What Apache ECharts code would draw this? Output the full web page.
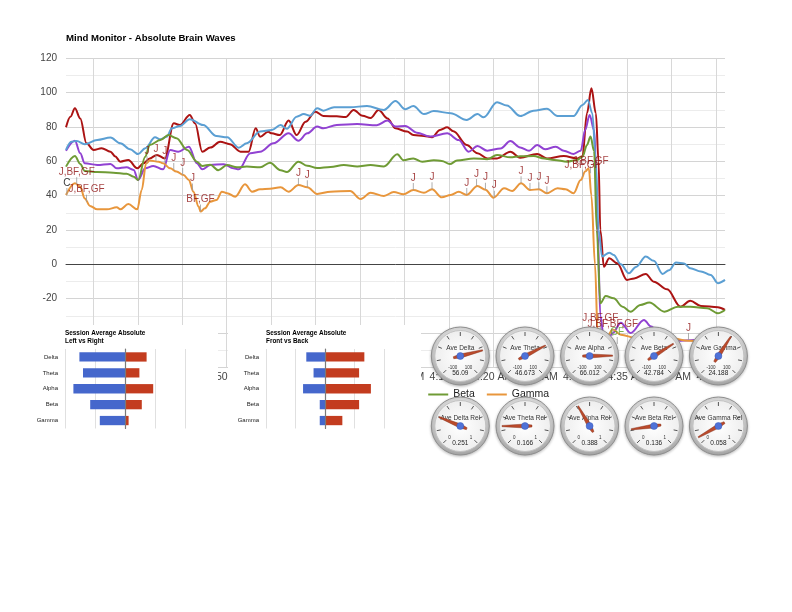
<!DOCTYPE html>
<html><head><meta charset="utf-8">
<script src="https://cdn.jsdelivr.net/npm/echarts@6/dist/echarts.min.js"></script>
<style>html,body{margin:0;padding:0;background:#fff}#c{width:792px;height:612px}</style>
</head><body><div id="c"></div>
<script>
// ---------------- DATA ----------------
const seriesNames = ['Delta', 'Theta', 'Alpha', 'Beta', 'Gamma'];
// time in minutes after midnight, value
const delta = [[212.0,79.8],[212.5,86],[213.0,90.9],[213.6,85],[214.3,70.5],[215.1,66.6],[216.0,67.6],[217.0,65.6],[217.5,63],[218.1,59.8],[219.0,60.8],[220.0,55.9],[220.7,58.8],[221.4,61.7],[222.2,63.7],[223.1,61.7],[224.1,82.1],[224.8,81.1],[225.9,87],[226.5,82],[227.3,65.6],[228.2,68],[229.3,71.4],[230.4,70],[231.6,65.6],[232.5,65.6],[233.3,79.2],[233.8,74.3],[234.7,77.2],[235.1,76.3],[236.0,75.3],[237.0,83.7],[237.9,75.3],[238.9,83],[240.0,88.9],[240.9,86.4],[242.4,86.2],[243.4,85.8],[244.3,89.9],[245.3,86.5],[246.2,85.2],[247.1,89.9],[248.1,85],[249.0,79.2],[250.3,77.3],[251.0,75.3],[252.2,74.8],[253.1,74],[254.0,78.3],[254.8,79.8],[255.5,77.5],[257.0,69.5],[258.2,64.7],[259.3,61.7],[260.4,61.7],[261.9,65.6],[263.0,62.1],[264.9,64.3],[266.0,61.7],[267.9,63.1],[269.4,61.7],[270.0,63],[270.5,88],[271.0,102.5],[271.5,88],[271.8,60],[272.0,20],[272.4,-1.4],[273.0,3.5],[273.9,0.6],[275.0,-9.1],[275.8,-8.2],[277.1,-5.6],[278.0,-10.1],[279.5,-14.6],[281.0,-24.7],[282.1,-21.2],[283.3,-24.3],[285.2,-25],[286,-26.6]];
const theta = [[212.0,66.2],[213.0,72],[213.6,64.7],[214.1,58.8],[215.5,57.9],[217.0,58.5],[217.7,55.9],[218.8,56.5],[219.6,55],[220.1,49.1],[220.9,55.9],[221.8,57.3],[222.9,55.3],[223.7,66.6],[224.6,65.6],[225.8,68.5],[226.7,58.8],[227.3,55.3],[228.2,57.9],[229.7,58.3],[230.8,55.9],[231.4,55.3],[232.7,64.7],[233.8,65.6],[235.3,70.5],[237.0,76.3],[238.1,72],[239.1,76.3],[240.2,80.2],[240.9,79.2],[242.4,81.2],[244.7,81.7],[246.9,81],[248.1,83.7],[249.0,80.2],[250.1,80.6],[251.4,76.7],[252.9,74.4],[254.8,76.3],[256.1,72.4],[257.2,65.6],[258.2,68.9],[259.3,66.2],[260.8,67.5],[261.9,71.8],[263.0,68.1],[264.0,66.2],[264.9,69.5],[265.8,67],[267.0,68.5],[267.9,66.2],[269.0,64.3],[269.8,66.2],[270.3,78.3],[270.8,87],[271.3,78],[271.7,20],[272.0,-30],[272.5,-48],[273.4,-40],[274.3,-34],[275.4,-40],[276.9,-32.4],[277.7,-36.3],[278.8,-42],[281.0,-44.5],[283.3,-44],[286,-43]];
const alpha = [[212.0,66.6],[212.6,71.4],[213.2,71.8],[214.1,70.0],[215.5,72.4],[217.0,73.8],[218.1,70.5],[219.2,67],[220.1,64.2],[220.9,67.6],[222.0,74],[222.6,72.8],[223.3,74.3],[223.9,79.2],[224.8,80.6],[225.9,84.5],[227.4,81.1],[228.9,74.7],[230.1,74],[231.4,67.9],[232.3,70.5],[233.8,77.3],[235.1,78.2],[236.1,81.1],[236.8,79],[237.9,86],[238.7,87.5],[239.4,86.5],[240.2,90.9],[240.9,89.5],[242.1,91.5],[243.9,91.5],[245.8,92.2],[247.7,89.9],[249.0,95.1],[250.1,90.3],[251.0,92.2],[252.2,87.5],[253.3,89.3],[255.2,88],[257.0,84.1],[258.2,87.5],[258.9,85.6],[260.4,94.4],[261.5,92.5],[263.0,86.4],[264.5,89.5],[266.0,90.6],[267.2,86.4],[269.0,86.4],[270.0,92.8],[270.6,95.7],[271.1,88],[271.5,60],[271.8,20],[272.2,4.5],[273.0,6.8],[273.5,5.4],[274.3,0],[275.2,-5.2],[276.0,-1.5],[277.1,4.5],[278.0,2],[279.0,-5.6],[279.7,-3.5],[280.5,1],[281.4,0.5],[282.1,-2.3],[283.3,-4.2],[284.4,-6.2],[285.2,-11],[286,-9.1]];
const beta = [[212.0,56.9],[213.0,63.1],[213.6,58.5],[214.1,54.4],[215.5,53.8],[217.3,53.4],[218.8,52.8],[219.6,51],[220.1,49.1],[220.9,62.7],[221.4,69.5],[222.6,72.4],[223.5,75.3],[224.4,73.5],[225.6,66.6],[226.7,59.8],[227.3,57.3],[228.2,58],[229.1,54.8],[230.1,57.9],[231.2,56.5],[232.3,56.9],[233.8,56.5],[234.9,59.2],[236.1,54.8],[236.8,53.8],[238.1,59.8],[239.1,57.4],[240.2,56.1],[241.7,56.7],[243.2,57.9],[244.7,57],[246.2,57.9],[247.7,57],[249.2,64.1],[249.9,60.6],[251.0,61.7],[252.0,59.8],[253.3,60.6],[254.2,60.2],[255.1,58.4],[255.9,60.4],[257.8,61.7],[259.3,61.2],[260.4,63.7],[261.9,62.3],[263.0,62.9],[264.5,63.1],[265.7,61.7],[266.8,60.8],[268.3,59.8],[269.4,60.8],[270.0,62.7],[270.5,69.5],[270.9,74.4],[271.3,66],[271.6,20],[272.0,-22.7],[272.6,-18.4],[273.5,-19.8],[274.5,-24.7],[275.4,-27.6],[276.5,-23.7],[277.5,-22.3],[279.2,-27.6],[280.7,-24.7],[282.1,-24.7],[284.0,-25.6],[285.2,-28.5],[286,-26.6]];
const gamma = [[212.0,40.4],[213.0,47.2],[213.6,45.3],[214.1,38.4],[214.7,34],[215.5,32],[216.6,32],[217.7,33.2],[218.1,32],[219.0,35.1],[220.0,32],[220.5,43.3],[221.0,58.8],[221.4,60.4],[222.4,59.8],[222.9,58.8],[223.7,55.9],[224.4,54],[225.2,52],[225.8,49.1],[226.3,42.3],[226.9,33.6],[227.1,30.7],[227.6,32.6],[228.2,36.5],[228.9,37.5],[229.5,42.3],[230.1,41.4],[231.0,39.4],[232.1,46.6],[232.9,42.3],[233.8,43.7],[234.9,44],[236.1,44.9],[237.0,42.3],[238.1,46.2],[239.1,44.9],[240.2,41],[241.7,42.3],[243.9,42.7],[245.1,38],[246.2,41.7],[247.7,39.8],[248.8,42.1],[249.9,40.8],[251.0,43.3],[252.2,41.7],[253.1,43.7],[254.2,39],[255.2,40.4],[256.1,42.3],[257.0,40.4],[258.2,45.6],[259.1,43.5],[260.0,38.8],[261.2,44.3],[262.1,42.7],[263.1,47.2],[264.1,43.3],[265.1,43.7],[266.0,41.4],[267.2,44.3],[268.1,43.7],[269.0,41.4],[269.8,49.1],[270.3,54],[270.7,56],[271.0,40],[271.4,0],[271.7,-40],[272.4,-46],[273.4,-38],[274.3,-41],[276.0,-43],[277.7,-45],[279.9,-43],[281.9,-44.5],[283.8,-45],[286,-46]];

// annotations: time, value, text
const annotRed = [[213.2,46.6,'J,BF,GF'],[214.3,36.5,'J,BF,GF'],[221.1,58.8,'J'],[222.1,60,'J'],[223.1,58.8,'J'],[224.1,55,'J'],[225.1,52,'J'],[226.2,43,'J'],[227.1,30.7,'BF,GF'],[238.1,46.2,'J'],[239.1,44.9,'J'],[251.0,43.3,'J'],[253.1,43.7,'J'],[257.0,40.4,'J'],[258.1,45.6,'J'],[259.1,43.5,'J'],[260.1,38.8,'J'],[263.1,47.2,'J'],[264.1,43.3,'J'],[265.1,43.7,'J'],[266.0,41.4,'J'],[270.0,51,'J,BF,GF'],[270.9,53,'J,BF,GF'],[272.0,-38.5,'J,BF,GF'],[273.4,-41.8,'J,BF,BF,GF'],[281.9,-44.1,'J']];
const annotBlack = [[212.1,40.4,'C']];
const annotGreen = [[273.9,-46.4,'GF']];

const yMin = -60, yMax = 120, yStep = 20;
const timeMin = 212, timeMax = 286, tickFirst = 215, tickLast = 285, tickStep = 5;

const barCats = ['Delta', 'Theta', 'Alpha', 'Beta', 'Gamma'];
const leftVals = [-76, -70, -86, -58, -42];
const rightVals = [36, 24, 47, 28, 6];
const frontVals = [-31.7, -19.4, -37.2, -8.9, -8.9];
const backVals = [66.7, 57.8, 77.8, 57.8, 29.4];

const absNames = ['Ave Delta', 'Ave Theta', 'Ave Alpha', 'Ave Beta', 'Ave Gamma'];
const absValues = [56.09, 46.673, 66.012, 42.784, 24.188];
const relNames = ['Ave Delta Rel', 'Ave Theta Rel', 'Ave Alpha Rel', 'Ave Beta Rel', 'Ave Gamma Rel'];
const relValues = [0.251, 0.166, 0.388, 0.136, 0.058];

// ---------------- LAYOUT / STYLE ----------------
const colors = ['#ab1313', '#9142d2', '#5b9fd3', '#6f9b35', '#e8963c'];
const FONT = '"Liberation Sans", Arial, sans-serif';
const gaugeX = [460.3, 525, 589.6, 654, 718.4];
const gaugeY = [356, 426];
const gaugeR = 29;
const NEEDLE = 'path://M4.4,0 L5.6,0 L7,76 L6,100 L4,100 L3,76 Z';

const fmtTime = v => { const h = Math.floor(v / 60); const m = Math.round(v - h * 60); return h + ':' + (m < 10 ? '0' : '') + m + ' AM'; };

function annotSeries(list, color) {
  return {
    type: 'scatter', xAxisIndex: 0, yAxisIndex: 0, z: 3, silent: true,
    symbol: 'rect', symbolSize: [1, 7], symbolOffset: [0, '-50%'],
    itemStyle: { color: '#9a9a9a' },
    label: { show: true, position: 'top', distance: 0, formatter: '{b}', color: color, fontSize: 10, fontFamily: FONT },
    data: list.map(a => ({ name: a[2], value: [a[0], a[1]] }))
  };
}

function makeGauge(name, value, cx, cy, min, max, edge) {
  return {
    type: 'gauge', name: name, z: 12, center: [cx, cy], radius: gaugeR,
    startAngle: 225, endAngle: -45, min: min, max: max, splitNumber: 8,
    axisLine: { show: false, lineStyle: { width: 0 } },
    progress: { show: false },
    splitLine: { show: true, distance: 5, length: 4, lineStyle: { color: '#555', width: 1 } },
    axisTick: { show: false },
    axisLabel: { show: true, distance: 3, fontSize: 4.5, color: '#333', fontFamily: FONT,
      formatter: v => (v === min ? edge[0] : (v === max ? edge[1] : '')) },
    pointer: { show: true, icon: NEEDLE, length: 30, width: 4, offsetCenter: [0, 7],
      itemStyle: { color: '#bb4a2b', borderColor: '#7f2a16', borderWidth: 0.4 } },
    anchor: { show: true, showAbove: true, size: 7, itemStyle: { color: '#4f72d8', borderColor: '#3b5bb8', borderWidth: 0.5 } },
    title: { show: true, offsetCenter: [0, '-26%'], fontSize: 6.5, color: '#333', fontFamily: FONT },
    detail: { show: true, offsetCenter: [0, '60%'], fontSize: 6.5, fontWeight: 'normal', color: '#222', fontFamily: FONT, formatter: '{value}', valueAnimation: false },
    data: [{ value: value, name: name }]
  };
}

const gaugeGraphics = [];
gaugeY.forEach(cy => gaugeX.forEach(cx => {
  gaugeGraphics.push({ type: 'circle', z: 10, silent: true, shape: { cx: cx, cy: cy, r: gaugeR },
    style: { fill: { type: 'linear', x: 0, y: 0, x2: 0, y2: 1, colorStops: [{ offset: 0, color: '#e2e2e2' }, { offset: 1, color: '#a9a9a9' }] },
      stroke: '#8e8e8e', lineWidth: 1, shadowBlur: 3, shadowColor: 'rgba(0,0,0,0.25)', shadowOffsetY: 1 } });
  gaugeGraphics.push({ type: 'circle', z: 11, silent: true, shape: { cx: cx, cy: cy, r: gaugeR - 3.5 },
    style: { fill: { type: 'radial', x: 0.5, y: 0.5, r: 0.5, colorStops: [{ offset: 0, color: '#ffffff' }, { offset: 1, color: '#eeeeee' }] },
      stroke: '#c2c2c2', lineWidth: 1 } });
}));

const lineData = [delta, theta, alpha, beta, gamma];

function catAxis(gi) {
  return { gridIndex: gi, type: 'category', data: barCats, inverse: true, z: 11, position: 'left',
    axisLine: { show: false, onZero: false }, axisTick: { show: false },
    axisLabel: { fontSize: 6, color: '#222', margin: 7 } };
}
function zeroAxis(gi) {
  return { gridIndex: gi, type: 'category', data: barCats, inverse: true, z: 13, position: 'left',
    axisLine: { show: true, onZero: true, lineStyle: { color: '#7a7a7a', width: 1.2 } },
    axisTick: { show: false }, axisLabel: { show: false }, splitLine: { show: false } };
}

const option = {
  animation: false,
  textStyle: { fontFamily: FONT },
  title: [
    { text: 'Mind Monitor - Absolute Brain Waves', left: 66, top: 33, padding: 0,
      textStyle: { fontSize: 9.6, fontWeight: 'bold', color: '#000' } },
    { text: 'Session Average Absolute\nLeft vs Right', left: 65, top: 329, padding: 0, z: 11,
      textStyle: { fontSize: 6.4, lineHeight: 8, fontWeight: 'bold', color: '#000' } },
    { text: 'Session Average Absolute\nFront vs Back', left: 266, top: 329, padding: 0, z: 11,
      textStyle: { fontSize: 6.4, lineHeight: 8, fontWeight: 'bold', color: '#000' } }
  ],
  legend: {
    data: seriesNames, left: 239, top: 389, padding: 0, itemGap: 12, itemWidth: 20, itemHeight: 2,
    icon: 'rect', selectedMode: false,
    textStyle: { fontSize: 10.5, color: '#222' }
  },
  grid: [
    { left: 66, top: 58.3, width: 659, height: 309 },
    { left: 93.3, top: 58.3, width: 622.7, height: 309 },
    { left: 65, top: 349, width: 120, height: 79.5 },
    { left: 266, top: 349, width: 118, height: 79.5 }
  ],
  xAxis: [
    { gridIndex: 0, type: 'value', min: timeMin, max: timeMax,
      axisLine: { show: true, onZero: true, lineStyle: { color: '#444', width: 1 } },
      axisTick: { show: false }, axisLabel: { show: false }, splitLine: { show: false } },
    { gridIndex: 1, type: 'value', min: tickFirst, max: tickLast, interval: tickStep,
      axisLine: { show: false }, axisTick: { show: false },
      axisLabel: { show: true, margin: 4.5, fontSize: 10.5, color: '#444', formatter: fmtTime },
      splitLine: { show: true, lineStyle: { color: '#d8d8d8', width: 1 } } },
    { gridIndex: 2, type: 'value', min: -100, max: 100, interval: 50, z: 11,
      axisLine: { show: false }, axisTick: { show: false }, axisLabel: { show: false },
      splitLine: { show: true, lineStyle: { color: '#e0e0e0' } } },
    { gridIndex: 3, type: 'value', min: -100, max: 100, interval: 50, z: 11,
      axisLine: { show: false }, axisTick: { show: false }, axisLabel: { show: false },
      splitLine: { show: true, lineStyle: { color: '#e0e0e0' } } }
  ],
  yAxis: [
    { gridIndex: 0, type: 'value', min: yMin, max: yMax, interval: yStep,
      axisLine: { show: false }, axisTick: { show: false },
      axisLabel: { fontSize: 10, color: '#444', margin: 9 },
      splitLine: { show: true, lineStyle: { color: '#d4d4d4' } },
      minorTick: { show: false, splitNumber: 2 },
      minorSplitLine: { show: true, lineStyle: { color: '#ececec' } } },
    { gridIndex: 1, type: 'value', min: yMin, max: yMax, show: false },
    catAxis(2), catAxis(3), zeroAxis(2), zeroAxis(3)
  ],
  graphic: [
    { type: 'rect', z: 10, silent: true, shape: { x: 0, y: 325, width: 218, height: 120 }, style: { fill: '#ffffff' } },
    { type: 'rect', z: 10, silent: true, shape: { x: 228, y: 325, width: 193, height: 120 }, style: { fill: '#ffffff' } }
  ].concat(gaugeGraphics),
  series: [].concat(
    seriesNames.map((n, i) => ({
      type: 'line', name: n, xAxisIndex: 0, yAxisIndex: 0, z: 2,
      data: lineData[i], showSymbol: false, smooth: 0.35, smoothMonotone: 'x',
      lineStyle: { width: 2, color: colors[i] }, itemStyle: { color: colors[i] }
    })),
    [annotSeries(annotRed, '#8e1010'), annotSeries(annotBlack, '#000'), annotSeries(annotGreen, '#5aa02c')],
    [
      { type: 'bar', name: 'Left', xAxisIndex: 2, yAxisIndex: 2, z: 12, data: leftVals, barWidth: 9.3, barGap: '-100%', itemStyle: { color: '#4567cc' } },
      { type: 'bar', name: 'Right', xAxisIndex: 2, yAxisIndex: 2, z: 12, data: rightVals, barWidth: 9.3, barGap: '-100%', itemStyle: { color: '#c33c1f' } },
      { type: 'bar', name: 'Front', xAxisIndex: 3, yAxisIndex: 3, z: 12, data: frontVals, barWidth: 9.3, barGap: '-100%', itemStyle: { color: '#4567cc' } },
      { type: 'bar', name: 'Back', xAxisIndex: 3, yAxisIndex: 3, z: 12, data: backVals, barWidth: 9.3, barGap: '-100%', itemStyle: { color: '#c33c1f' } }
    ],
    absNames.map((n, i) => makeGauge(n, absValues[i], gaugeX[i], gaugeY[0], -100, 100, ['-100', '100'])),
    relNames.map((n, i) => makeGauge(n, relValues[i], gaugeX[i], gaugeY[1], 0, 1, ['0', '1']))
  )
};

const chart = echarts.init(document.getElementById('c'), null, { renderer: 'canvas' });
chart.setOption(option);
</script>
</body></html>
